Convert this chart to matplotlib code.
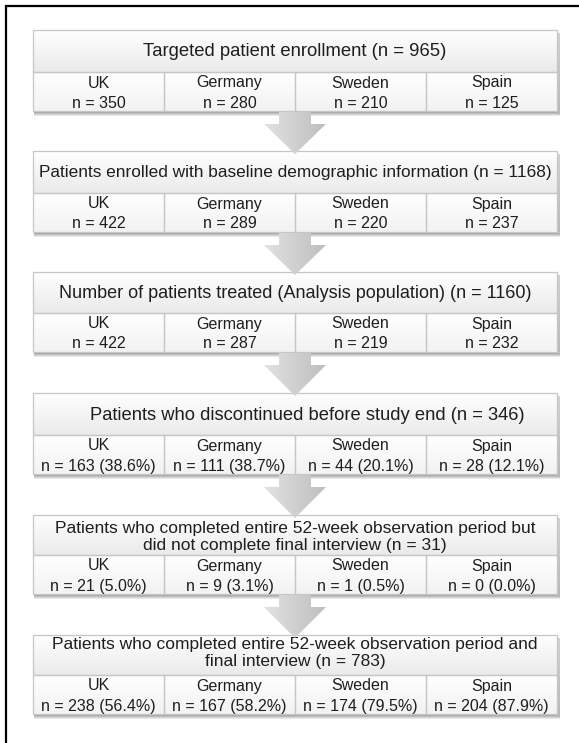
import numpy as np
import matplotlib
matplotlib.use("Agg")
import matplotlib.pyplot as plt
from matplotlib.patches import Rectangle, Polygon
from matplotlib.colors import to_rgb

plt.rcParams['font.family'] = ['Liberation Sans', 'DejaVu Sans']

# --- flowchart data ---
stage_titles = [
    "Targeted patient enrollment",
    "Patients enrolled with baseline demographic information",
    "Number of patients treated (Analysis population)",
    "Patients who discontinued before study end",
    "Patients who completed entire 52-week observation period but\ndid not complete final interview",
    "Patients who completed entire 52-week observation period and\nfinal interview",
]
stage_totals = [965, 1168, 1160, 346, 31, 783]
countries = ["UK", "Germany", "Sweden", "Spain"]
stage_counts = [
    [350, 280, 210, 125],
    [422, 289, 220, 237],
    [422, 287, 219, 232],
    [163, 111, 44, 28],
    [21, 9, 1, 0],
    [238, 167, 174, 204],
]
stage_pcts = [
    None,
    None,
    None,
    [38.6, 38.7, 20.1, 12.1],
    [5.0, 3.1, 0.5, 0.0],
    [56.4, 58.2, 79.5, 87.9],
]

# --- layout (pixels) ---
W, H = 579, 743
box_left, box_right = 33, 557
box_tops = [30, 151, 272, 393, 515, 635]
title_h = [42, 42, 41, 42, 40, 40]
title_fs = [13.3, 12.4, 13.0, 13.2, 12.5, 12.5]
title_dx = [0, 0, 0, 12, 0, 0]
title_dy = [1, 1, 1, 1, 2, -2]
cell_h = 39
border = "#c6c6c6"
text_col = "#1e1e1e"

fig = plt.figure(figsize=(W / 100, H / 100), dpi=100)
ax = fig.add_axes([0, 0, 1, 1])
ax.axis("off")


def grad_fill(x0, y0, w, h, c_top, c_bot, z, clip=None, horiz=False):
    t = np.linspace(0, 1, 64)
    a, b = np.array(to_rgb(c_top)), np.array(to_rgb(c_bot))
    if horiz:
        img = a * (1 - t[None, :, None]) + b * t[None, :, None]
    else:
        img = a * (1 - t[:, None, None]) + b * t[:, None, None]
    im = ax.imshow(img, extent=(x0, x0 + w, y0 + h, y0), aspect="auto",
                   zorder=z, interpolation="bilinear")
    if clip is not None:
        im.set_clip_path(clip)
    return im


# outer frame (only top and left edges visible)
ax.plot([6, 6, W], [H, 6, 6], color="black", lw=1.6, zorder=10,
        solid_joinstyle="miter")

bw = box_right - box_left
cw = bw / len(countries)

for i, title in enumerate(stage_titles):
    top = box_tops[i]
    div = top + title_h[i]
    bot = div + cell_h

    # drop shadow
    grad_fill(box_left + 1, bot, bw + 2, 5, "#8a8a8a", "#f4f4f4", 1)
    grad_fill(box_right, top + 3, 3, bot - top, "#d2d2d2", "#b8b8b8", 1)

    # title area
    grad_fill(box_left, top, bw, title_h[i], "#ffffff", "#eaeaea", 2)
    ax.add_patch(Rectangle((box_left, top), bw, title_h[i], fill=False,
                           ec=border, lw=0.9, zorder=3))
    # cells
    for j, c in enumerate(countries):
        x0 = box_left + j * cw
        grad_fill(x0, div, cw, cell_h, "#ffffff", "#f2f2f2", 2)
        ax.add_patch(Rectangle((x0, div), cw, cell_h, fill=False,
                               ec=border, lw=0.9, zorder=3))
        if stage_pcts[i] is None:
            val = f"n = {stage_counts[i][j]}"
        else:
            val = f"n = {stage_counts[i][j]} ({stage_pcts[i][j]:.1f}%)"
        ax.text(x0 + cw / 2, div + 11, c, ha="center", va="center",
                fontsize=11.5, color=text_col, zorder=5)
        ax.text(x0 + cw / 2, div + 31, val, ha="center", va="center",
                fontsize=11.5, color=text_col, zorder=5)

    label = f"{title} (n = {stage_totals[i]})"
    ax.text((box_left + box_right) / 2 + title_dx[i],
            (top + div) / 2 + title_dy[i], label, ha="center", va="center",
            fontsize=title_fs[i], color=text_col, linespacing=1.1, zorder=5)

    # arrow to next box
    if i < len(stage_titles) - 1:
        cx = (box_left + box_right) / 2
        y0 = bot + 1
        y1 = box_tops[i + 1] + 3
        pts = [(cx - 16, y0), (cx + 16, y0), (cx + 16, y0 + 12),
               (cx + 31, y0 + 12), (cx, y1), (cx - 31, y0 + 12),
               (cx - 16, y0 + 12)]
        poly = Polygon(pts, closed=True, fc="none", ec="none", zorder=6)
        ax.add_patch(poly)
        grad_fill(cx - 31, y0, 62, y1 - y0, "#e2e2e2", "#bebebe", 6,
                  clip=poly, horiz=True)

ax.set_xlim(0, W)
ax.set_ylim(H, 0)
fig.savefig("out.png", dpi=100, facecolor="white")
